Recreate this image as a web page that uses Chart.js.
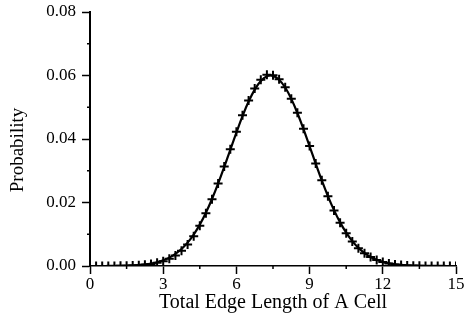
<!DOCTYPE html>
<html>
<head>
<meta charset="utf-8">
<script src="https://cdn.jsdelivr.net/npm/chart.js@4/dist/chart.umd.min.js"></script>
<style>
  html, body { margin: 0; padding: 0; background: #fff; }
  #wrap { width: 464px; height: 324px; }
</style>
</head>
<body>
<div id="wrap"><canvas id="chart" width="464" height="324"></canvas></div>
<script>
// Total edge length of a cell, sampled every 0.25
const edgeLengths = [
  0, 0.25, 0.5, 0.75, 1, 1.25, 1.5, 1.75, 2, 2.25, 2.5, 2.75,
  3, 3.25, 3.5, 3.75, 4, 4.25, 4.5, 4.75, 5, 5.25, 5.5, 5.75,
  6, 6.25, 6.5, 6.75, 7, 7.25, 7.5, 7.75, 8, 8.25, 8.5, 8.75,
  9, 9.25, 9.5, 9.75, 10, 10.25, 10.5, 10.75, 11, 11.25, 11.5, 11.75,
  12, 12.25, 12.5, 12.75, 13, 13.25, 13.5, 13.75, 14, 14.25, 14.5, 14.75, 15
]

// smooth curve (solid line)
const curveProb = [
  0.00000, 0.00000, 0.00000, 0.00001, 0.00004, 0.00006, 0.00011, 0.00018, 0.00030, 0.00049, 0.00077, 0.00119,
  0.00179, 0.00263, 0.00380, 0.00535, 0.00736, 0.00991, 0.01304, 0.01678, 0.02110, 0.02593, 0.03117, 0.03661,
  0.04204, 0.04720, 0.05180, 0.05557, 0.05829, 0.05976, 0.05989, 0.05868, 0.05621, 0.05263, 0.04818, 0.04310,
  0.03770, 0.03224, 0.02695, 0.02203, 0.01760, 0.01374, 0.01049, 0.00783, 0.00571, 0.00408, 0.00284, 0.00194,
  0.00129, 0.00084, 0.00053, 0.00033, 0.00020, 0.00012, 0.00007, 0.00004, 0.00002, 0.00001, 0.00001, 0.00000, 0.00000
]

// measured points (+ markers)
const markerProb = [
  0.00000, 0.00000, 0.00000, 0.00000, 0.00003, 0.00005, 0.00010, 0.00016, 0.00026, 0.00042, 0.00066, 0.00100,
  0.00150, 0.00225, 0.00330, 0.00480, 0.00680, 0.00940, 0.01270, 0.01660, 0.02100, 0.02600, 0.03130, 0.03680,
  0.04230, 0.04750, 0.05210, 0.05590, 0.05870, 0.06020, 0.06010, 0.05880, 0.05630, 0.05270, 0.04830, 0.04320,
  0.03780, 0.03230, 0.02700, 0.02200, 0.01750, 0.01360, 0.01030, 0.00770, 0.00560, 0.00400, 0.00280, 0.00190,
  0.00125, 0.00080, 0.00050, 0.00030, 0.00018, 0.00010, 0.00006, 0.00003, 0.00002, 0.00001, 0.00000, 0.00000, 0.00000
]

const xMin = 0, xMax = 15, xStep = 3
const yMin = 0, yMax = 0.08, yStep = 0.02
const xMinorTicks = [1.5, 4.5, 7.5, 10.5, 13.5]
const yMinorTicks = [0.01, 0.03, 0.05, 0.07]
const yTitle = "Probability"

const serif = "'Liberation Serif', 'Times New Roman', serif"

// short minor tick marks + y title (sits a bit below the axis middle)
const extras = {
  id: "extras",
  afterDraw(chart) {
    const ctx = chart.ctx
    const xs = chart.scales.x
    const ys = chart.scales.y
    ctx.save()
    ctx.strokeStyle = "#000"
    ctx.lineWidth = 1.5
    ctx.beginPath()
    xMinorTicks.forEach((v) => {
      const px = xs.getPixelForValue(v)
      ctx.moveTo(px, ys.bottom)
      ctx.lineTo(px, ys.bottom + 3)
    })
    yMinorTicks.forEach((v) => {
      const py = ys.getPixelForValue(v)
      ctx.moveTo(xs.left, py)
      ctx.lineTo(xs.left - 3, py)
    })
    ctx.stroke()

    ctx.translate(ys.left + 18, (ys.top + ys.bottom) / 2 + 11)
    ctx.rotate(-Math.PI / 2)
    ctx.fillStyle = "#000"
    ctx.font = "19px " + serif
    ctx.textAlign = "center"
    ctx.textBaseline = "middle"
    ctx.fillText(yTitle, 0, 0)
    ctx.restore()
  },
}

new Chart(document.getElementById("chart"), {
  type: "line",
  data: {
    datasets: [
      {
        label: "curve",
        data: edgeLengths.map((x, i) => ({ x: x, y: curveProb[i] })),
        borderColor: "#000",
        borderWidth: 2.2,
        pointRadius: 0,
        tension: 0.4,
        fill: false,
      },
      {
        label: "points",
        data: edgeLengths.map((x, i) => ({ x: x, y: markerProb[i] })),
        showLine: false,
        pointStyle: "cross",
        pointRadius: 4.5,
        pointBorderWidth: 2,
        pointBorderColor: "#000",
        pointBackgroundColor: "#000",
      },
    ],
  },
  options: {
    responsive: false,
    animation: false,
    layout: { padding: { top: 12, right: 8, left: 0, bottom: 0 } },
    plugins: { legend: { display: false }, tooltip: { enabled: false } },
    scales: {
      x: {
        type: "linear",
        min: xMin,
        max: xMax,
        afterFit: (scale) => {
          scale.height = 58
          scale.paddingLeft = 0
          scale.paddingRight = 0
        },
        ticks: {
          stepSize: xStep,
          color: "#000",
          font: { family: serif, size: 17 },
          padding: 0,
          maxRotation: 0,
        },
        grid: { drawOnChartArea: false, tickLength: 8, tickColor: "#000", tickWidth: 1.5 },
        border: { color: "#000", width: 1.5 },
        title: {
          display: true,
          text: "Total Edge Length of A Cell",
          color: "#000",
          font: { family: serif, size: 20 },
          padding: { top: 0, bottom: 9 },
        },
      },
      y: {
        type: "linear",
        min: yMin,
        max: yMax,
        afterFit: (scale) => {
          scale.width = 90
          scale.paddingTop = 0
          scale.paddingBottom = 0
        },
        ticks: {
          stepSize: yStep,
          color: "#000",
          font: { family: serif, size: 17 },
          padding: 6,
          callback: (v) => v.toFixed(2),
        },
        grid: { drawOnChartArea: false, tickLength: 8, tickColor: "#000", tickWidth: 1.5 },
        border: { color: "#000", width: 2 },
      },
    },
  },
  plugins: [extras],
})
</script>
</body>
</html>
